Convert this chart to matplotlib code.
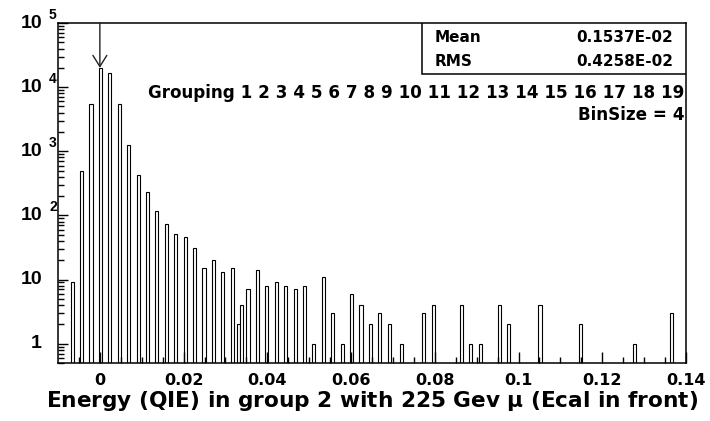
import numpy as np
import matplotlib
matplotlib.use("Agg")
import matplotlib.pyplot as plt
from matplotlib.ticker import FixedLocator, LogLocator, NullFormatter

plt.rcParams['font.family'] = ['DejaVu Sans']
plt.rcParams['font.weight'] = 'bold'
plt.rcParams['mathtext.fontset'] = 'dejavusans'

# histogram contents (bin centre in energy units, entries)
bin_width = 0.00075
energy = [-0.006625, -0.004375, -0.002125, 0.000125, 0.002375, 0.004625,
          0.006875, 0.009125, 0.011375, 0.013625, 0.015875, 0.018125,
          0.020375, 0.022625, 0.024875, 0.027125, 0.029375, 0.031625,
          0.033125, 0.033875, 0.035375, 0.037625, 0.039875, 0.042125,
          0.044375, 0.046625, 0.048875, 0.051125, 0.053375, 0.055625,
          0.057875, 0.060125, 0.062375, 0.064625, 0.066875, 0.069125,
          0.072125, 0.077375, 0.079625, 0.086375, 0.088625, 0.090875,
          0.095375, 0.097625, 0.105125, 0.114875, 0.127625, 0.136625]
counts = [9, 486, 5510, 20000, 16700, 5510,
          1236, 425, 229, 119, 73, 51,
          46, 31, 15, 20, 13, 15,
          2, 4, 7, 14, 8, 9,
          8, 7, 8, 1, 11, 3,
          1, 6, 4, 2, 3, 2,
          1, 3, 4, 4, 1, 1,
          4, 2, 4, 2, 1, 3]

stat_names = ['Mean', 'RMS']
stat_values = ['0.1537E-02', '0.4258E-02']
groups = [str(i) for i in range(1, 20)]
x_ticks = [0, 0.02, 0.04, 0.06, 0.08, 0.1, 0.12, 0.14]
x_ticklabels = ['0', '0.02', '0.04', '0.06', '0.08', '0.1', '0.12', '0.14']
y_decades = [0, 1, 2, 3, 4, 5]

W, H = 710, 421
fig = plt.figure(figsize=(W / 100, H / 100), dpi=100)
ax = fig.add_axes([58 / W, 58 / H, 628 / W, 340 / H])

ymin = 0.5
ax.set_yscale('log')
ax.bar(energy, np.array(counts) - ymin, bottom=ymin, width=bin_width,
       facecolor='white', edgecolor='black', linewidth=0.8)
ax.set_xlim(-0.01, 0.14)
ax.set_ylim(ymin, 1e5)

# ticks inside, left and bottom only
ax.xaxis.set_major_locator(FixedLocator(x_ticks))
ax.xaxis.set_minor_locator(FixedLocator(np.arange(-0.005, 0.1401, 0.005)))
ax.yaxis.set_major_locator(FixedLocator([10.0 ** d for d in y_decades]))
ax.yaxis.set_minor_locator(LogLocator(base=10, subs=np.arange(2, 10)))
ax.yaxis.set_major_formatter(NullFormatter())
ax.yaxis.set_minor_formatter(NullFormatter())
ax.tick_params(which='both', direction='in', top=False, right=False, width=1)
ax.tick_params(axis='x', which='major', length=8, pad=7, labelsize=11.5)
ax.tick_params(axis='x', which='minor', length=4)
ax.tick_params(axis='y', which='major', length=7.5)
ax.tick_params(axis='y', which='minor', length=4.5)
ax.set_xticklabels(x_ticklabels, fontweight='bold')
for sp in ax.spines.values():
    sp.set_linewidth(1.1)

# y labels drawn by hand: "10" with a raised exponent
for d in y_decades:
    base = '1' if d == 0 else '10'
    ax.annotate(base, xy=(0, 10.0 ** d), xycoords=('axes fraction', 'data'),
                xytext=(-16, 0), textcoords='offset pixels',
                ha='right', va='center', fontsize=14, fontweight='bold',
                family='Liberation Sans', annotation_clip=False)
    if d >= 2:
        ax.annotate(str(d), xy=(0, 10.0 ** d), xycoords=('axes fraction', 'data'),
                    xytext=(-9, 8), textcoords='offset pixels',
                    ha='left', va='center', fontsize=10, fontweight='bold',
                    family='Liberation Sans', annotation_clip=False)

ax.set_xlabel(r'Energy (QIE) in group 2 with 225 Gev $\mathrm{\mu}$ (Ecal in front)',
              fontsize=15.6, fontweight='bold', labelpad=1)

# arrow at zero
ax.annotate('', xy=(0, 20000), xytext=(0, 1e5),
            arrowprops=dict(arrowstyle='->,head_length=0.8,head_width=0.5',
                            color='#222222', lw=1, shrinkA=0, shrinkB=0))

# stats box
box_l = (422 - 58) / 628
box_b = (363 - 74) / 340
ax.add_patch(plt.Rectangle((box_l, box_b), 1 - box_l, 1 - box_b,
                           transform=ax.transAxes, facecolor='white',
                           edgecolor='black', linewidth=1.1, zorder=5))
row_y = [(363 - 37) / 340, (363 - 61) / 340]
for name, val, yy in zip(stat_names, stat_values, row_y):
    ax.text((435 - 58) / 628, yy, name, transform=ax.transAxes, ha='left',
            va='center', fontsize=11, fontweight='bold', zorder=6)
    ax.text((673 - 58) / 628, yy, val, transform=ax.transAxes, ha='right',
            va='center', fontsize=11, fontweight='bold', zorder=6)

ax.text(0.997, (363 - 93) / 340, 'Grouping ' + ' '.join(groups),
        transform=ax.transAxes, ha='right', va='center', fontsize=12.1,
        fontweight='bold')
ax.text(0.997, (363 - 115) / 340, 'BinSize = 4', transform=ax.transAxes,
        ha='right', va='center', fontsize=12.1, fontweight='bold')

fig.savefig('out.png', dpi=100)
